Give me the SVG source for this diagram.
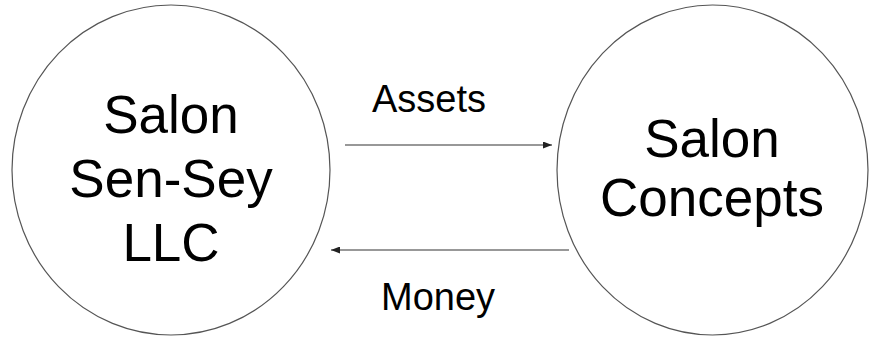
<svg xmlns="http://www.w3.org/2000/svg" width="869" height="338" viewBox="0 0 869 338">
<defs>
<style>
.node{fill:#fff;stroke:#555;stroke-width:1.2}
.big{font-family:"Liberation Sans",Arial,sans-serif;font-size:53px;fill:#000;text-anchor:middle}
.lbl{font-family:"Liberation Sans",Arial,sans-serif;font-size:38px;fill:#000}
.conn{stroke:#333;stroke-width:1.2;fill:none}
</style>
<marker id="ah" markerWidth="9" markerHeight="7" refX="9" refY="3.5" orient="auto" markerUnits="userSpaceOnUse">
<path d="M0,0 L9,3.5 L0,7 Z" fill="#222"/>
</marker>
</defs>
<rect width="869" height="338" fill="#fff"/>
<g id="node-senSey">
<ellipse class="node" cx="171" cy="170" rx="159" ry="165"/>
<text class="big" x="171" y="133">Salon</text>
<text class="big" x="171" y="197">Sen-Sey</text>
<text class="big" x="171" y="261">LLC</text>
</g>
<g id="node-concepts">
<ellipse class="node" cx="712.5" cy="170" rx="155.5" ry="165"/>
<text class="big" x="712" y="157">Salon</text>
<text class="big" x="712" y="216">Concepts</text>
</g>
<g id="connectors">
<line class="conn" x1="345" y1="145" x2="552" y2="145" marker-end="url(#ah)"/>
<line class="conn" x1="569" y1="250" x2="331" y2="250" marker-end="url(#ah)"/>
<text class="lbl" x="372" y="112">Assets</text>
<text class="lbl" x="381" y="310">Money</text>
</g>
</svg>
